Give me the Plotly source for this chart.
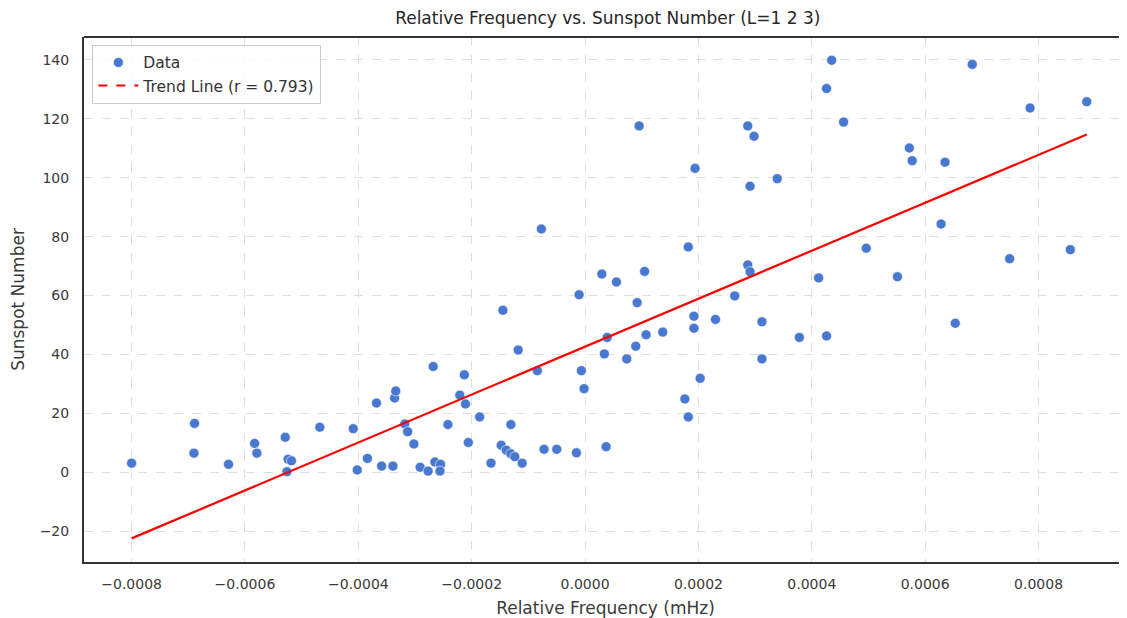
import numpy as np
import plotly.graph_objects as go

# relative frequency (mHz) and sunspot number
rel_freq = [
    -0.000800, -0.000689, -0.000690, -0.000629, -0.000583, -0.000579, -0.000529, -0.000524,
    -0.000518, -0.000526, -0.000468, -0.000409, -0.000402, -0.000384, -0.000368, -0.000359,
    -0.000336, -0.000334, -0.000339, -0.000318, -0.000313, -0.000302, -0.000291, -0.000277,
    -0.000268, -0.000265, -0.000255, -0.000256, -0.000242, -0.000221, -0.000213, -0.000211,
    -0.000206, -0.000186, -0.000166, -0.000145, -0.000148, -0.000139, -0.000131, -0.000131,
    -0.000124, -0.000118, -0.000111, -0.0000842, -0.0000724, -0.0000771, -0.0000500, -0.0000153,
    -0.0000106, -0.0000065, -0.0000018, 0.0000370, 0.0000340, 0.0000390, 0.0000295, 0.0000553,
    0.0000918, 0.0000735, 0.0000894, 0.0000953, 0.0001050, 0.0001076, 0.0001370, 0.0001820,
    0.0001920, 0.0001920, 0.0001940, 0.0002030, 0.0001760, 0.0001820, 0.0002300, 0.0002640,
    0.0002870, 0.0002910, 0.0002870, 0.0002980, 0.0002910, 0.0003120, 0.0003120, 0.0003390,
    0.0003780, 0.0004120, 0.0004260, 0.0004260, 0.0004350, 0.0004560, 0.0004960, 0.0005510,
    0.0005720, 0.0005770, 0.0006280, 0.0006350, 0.0006530, 0.0006830, 0.0007490, 0.0007850,
    0.0008560, 0.0008850,
]
sunspots = [
    3.1, 16.6, 6.5, 2.7, 9.8, 6.5, 11.9, 4.4,
    3.9, 0.2, 15.3, 14.8, 0.8, 4.7, 23.5, 2.1,
    25.2, 27.6, 2.1, 16.4, 13.8, 9.6, 1.7, 0.4,
    35.9, 3.5, 2.7, 0.4, 16.2, 26.2, 33.1, 23.2,
    10.1, 18.8, 3.1, 55.0, 9.2, 7.5, 16.2, 6.3,
    5.3, 41.5, 3.1, 34.5, 7.8, 82.6, 7.8, 6.6,
    60.3, 34.5, 28.4, 8.7, 40.2, 45.8, 67.3, 64.6,
    57.6, 38.5, 42.8, 117.6, 68.2, 46.7, 47.6, 76.5,
    53.0, 48.9, 103.2, 31.9, 24.9, 18.8, 51.9, 59.9,
    117.6, 97.1, 70.4, 114.1, 68.1, 51.1, 38.5, 99.7,
    45.8, 66.0, 130.3, 46.3, 139.9, 118.9, 76.1, 66.4,
    110.1, 105.8, 84.3, 105.3, 50.6, 138.5, 72.5, 123.7,
    75.6, 125.8,
]
r_label = "0.793"  # correlation as printed in the legend

x = np.array(rel_freq)
y = np.array(sunspots)
slope, intercept = np.polyfit(x, y, 1)
xs = np.sort(x)

FONT = "DejaVu Sans, sans-serif"
GRID = "#dedede"
SPINE = "#333333"

fig = go.Figure()
fig.add_trace(go.Scatter(
    x=x, y=y, mode="markers", name="Data",
    marker=dict(size=10, color="#4878d0", line=dict(color="#ffffff", width=0.6)),
))
# solid-looking fit line (the reference draws it unsorted so the dashes merge)
fig.add_trace(go.Scatter(
    x=xs, y=slope * xs + intercept, mode="lines", showlegend=False,
    line=dict(color="#ff0000", width=2.2), hoverinfo="skip",
))
fig.add_trace(go.Scatter(
    x=[None], y=[None], mode="lines", name=f"Trend Line (r = {r_label})",
    line=dict(color="#ff0000", width=2, dash="dash"),
))

fig.add_shape(type="line", xref="paper", yref="paper", x0=0, x1=1, y0=1, y1=1,
              line=dict(color=SPINE, width=2))

# page body has an 8px margin, so the figure is sized to end at the window edge
fig.update_layout(
    width=1119, height=610,
    paper_bgcolor="#ffffff", plot_bgcolor="#ffffff",
    margin=dict(l=76, r=0, t=29, b=56),
    font=dict(family=FONT, size=14, color="#3a3a3a"),
    title=dict(text="Relative Frequency vs. Sunspot Number (L=1 2 3)",
               x=0.536, xanchor="center", y=0.984, yanchor="middle",
               font=dict(size=17, color="#262626", family=FONT)),
    xaxis=dict(
        range=[-0.000884, 0.000956], tickvals=[-0.0008, -0.0006, -0.0004, -0.0002, 0,
                                               0.0002, 0.0004, 0.0006, 0.0008],
        ticktext=["−0.0008", "−0.0006", "−0.0004", "−0.0002", "0.0000",
                  "0.0002", "0.0004", "0.0006", "0.0008"],
        showgrid=True, gridcolor=GRID, griddash="dash", gridwidth=1,
        zeroline=False, showline=True, linecolor=SPINE, linewidth=2,
        ticks="", ticklabelstandoff=8,
        title=dict(text="Relative Frequency (mHz)", standoff=12, font=dict(size=17)),
    ),
    yaxis=dict(
        range=[-30.46, 147.8], tickvals=[-20, 0, 20, 40, 60, 80, 100, 120, 140],
        ticktext=["−20", "0", "20", "40", "60", "80", "100", "120", "140"],
        showgrid=True, gridcolor=GRID, griddash="dash", gridwidth=1,
        zeroline=False, showline=True, linecolor=SPINE, linewidth=2,
        ticks="", ticklabelstandoff=10,
        title=dict(text="Sunspot Number", standoff=14, font=dict(size=17)),
    ),
    legend=dict(
        x=0.008, y=0.985, xanchor="left", yanchor="top",
        bgcolor="rgba(255,255,255,0.85)", bordercolor="#cccccc", borderwidth=1,
        font=dict(size=15.5, color="#333333"), tracegroupgap=2, itemwidth=40,
    ),
    showlegend=True,
)

fig.write_html("out.html")
